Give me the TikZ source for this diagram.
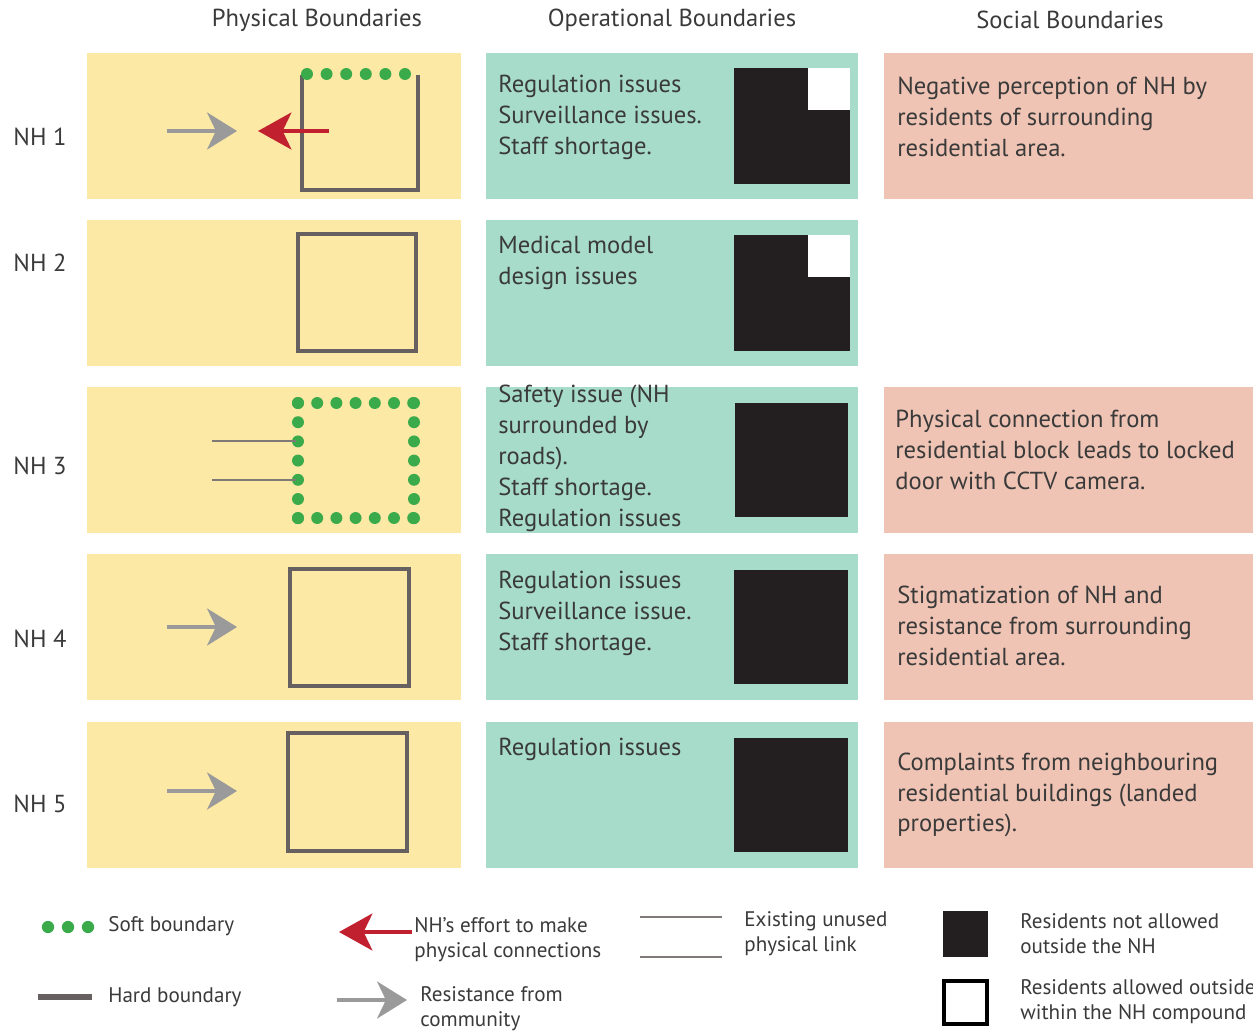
\documentclass[tikz,border=0pt]{standalone}
\usepackage{fontspec}
\setmainfont{PT Sans}
\usetikzlibrary{arrows.meta}

\definecolor{physyellow}{HTML}{FCE9A5}
\definecolor{opteal}{HTML}{A7DCCB}
\definecolor{socpink}{HTML}{EFC4B4}
\definecolor{softgreen}{HTML}{3BAA4B}
\definecolor{hardgrey}{HTML}{676060}
\definecolor{linkgrey}{HTML}{7F7A78}
\definecolor{resistgrey}{HTML}{9A9A9A}
\definecolor{effortred}{HTML}{C1202E}
\definecolor{inkgrey}{HTML}{3A3A3A}
\definecolor{residentblack}{HTML}{231F20}

\begin{document}
\begin{tikzpicture}[x=0.02cm, y=-0.02cm,
    txt/.style={font=\fontsize{14}{17.6}\selectfont, text=inkgrey, align=left, anchor=west, inner sep=0pt},
    head/.style={font=\fontsize{14}{17.6}\selectfont, text=inkgrey, inner sep=0pt},
    legtxt/.style={font=\fontsize{12}{14.2}\selectfont, text=inkgrey, align=left, anchor=west, inner sep=0pt},
    hard/.style={hardgrey, line width=2.5pt},
    link/.style={linkgrey, line width=1.3pt},
    resist/.style={resistgrey, line width=2.2pt, -{Stealth[length=17pt, width=21pt, inset=5pt]}},
    effort/.style={effortred, line width=2.2pt, -{Stealth[length=19pt, width=21pt, inset=5pt]}}]
    \useasboundingbox (0,0) rectangle (1253,1031);

    % --- Column headers ---
    \node[head] (hphys) at (317,20) {Physical Boundaries};
    \node[head] (hop)   at (672,20) {Operational Boundaries};
    \node[head] (hsoc)  at (1070,20) {Social Boundaries};

    % --- Coloured cells ---
    \foreach \top in {53,220,387,554,722} {
        \fill[physyellow] (87,\top) rectangle (461,\top+146);
        \fill[opteal] (486,\top) rectangle (858,\top+146);
    }
    \foreach \top in {53,387,554,722}
        \fill[socpink] (884,\top) rectangle (1253,\top+146);

    % --- Row labels ---
    \node[head] (nh1) at (40,137) {NH 1};
    \node[head] (nh2) at (40,263) {NH 2};
    \node[head] (nh3) at (40,466) {NH 3};
    \node[head] (nh4) at (40,639) {NH 4};
    \node[head] (nh5) at (40,804) {NH 5};

    % --- 1. Physical boundaries ---
    % NH 1: soft top, hard sides, effort vs resistance
    \draw[hard] (302,75) -- (302,190) -- (418,190) -- (418,75);
    \foreach \i in {0,...,5}
        \fill[softgreen] ({307+19.6*\i},74) circle[radius=3.4pt];
    \coordinate (rtail1) at (167,131);
    \coordinate (rtip1)  at (237,131);
    \coordinate (etail1) at (329,131);
    \coordinate (etip1)  at (258,131);
    \draw[resist] (rtail1) -- (rtip1);
    \draw[effort] (etail1) -- (etip1);

    % NH 2: hard boundary only
    \draw[hard] (298,234) rectangle (416,351);

    % NH 3: soft boundary with unused links
    \foreach \i in {0,...,6} {
        \fill[softgreen] ({298+19.2*\i},403) circle[radius=3.4pt];
        \fill[softgreen] ({298+19.2*\i},518) circle[radius=3.4pt];
        \fill[softgreen] (298,{403+19.2*\i}) circle[radius=3.4pt];
        \fill[softgreen] (414,{403+19.2*\i}) circle[radius=3.4pt];
    }
    \coordinate (link1a) at (212,441);
    \coordinate (link1b) at (296,441);
    \coordinate (link2a) at (212,480);
    \coordinate (link2b) at (296,480);
    \draw[link] (link1a) -- (link1b);
    \draw[link] (link2a) -- (link2b);

    % NH 4 and NH 5: hard boundary, resistance
    \draw[hard] (290,569) rectangle (409,686);
    \coordinate (rtail4) at (167,627);
    \coordinate (rtip4)  at (237,627);
    \draw[resist] (rtail4) -- (rtip4);
    \draw[hard] (288,733) rectangle (407,851);
    \coordinate (rtail5) at (167,791);
    \coordinate (rtip5)  at (237,791);
    \draw[resist] (rtail5) -- (rtip5);

    % --- 2. Operational boundaries ---
    \node[txt] (op1) at (498,117) {Regulation issues\\Surveillance issues.\\Staff shortage.};
    \node[txt] (op2) at (498,263) {Medical model\\design issues};
    \node[txt] (op3) at (498,458) {Safety issue (NH\\surrounded by\\roads).\\Staff shortage.\\Regulation issues};
    \node[txt] (op4) at (498,613) {Regulation issues\\Surveillance issue.\\Staff shortage.};
    \node[txt] (op5) at (498,749) {Regulation issues};

    \fill[residentblack] (734,68) rectangle (850,184);
    \fill[white] (808,68) rectangle (850,110);
    \fill[residentblack] (734,235) rectangle (850,351);
    \fill[white] (808,235) rectangle (850,277);
    \fill[residentblack] (735,403) rectangle (848,517);
    \fill[residentblack] (734,570) rectangle (848,684);
    \fill[residentblack] (734,738) rectangle (848,852);

    % --- 3. Social boundaries ---
    \node[txt] (soc1) at (897,117) {Negative perception of NH by\\residents of surrounding\\residential area.};
    \node[txt] (soc3) at (895,450) {Physical connection from\\residential block leads to locked\\door with CCTV camera.};
    \node[txt] (soc4) at (897,626) {Stigmatization of NH and\\resistance from surrounding\\residential area.};
    \node[txt] (soc5) at (897,795) {Complaints from neighbouring\\residential buildings (landed\\properties).};

    % --- 4. Legend ---
    \foreach \x in {48,68,88}
        \fill[softgreen] (\x,927) circle[radius=3.5pt];
    \node[legtxt] (lsoft) at (108,926) {Soft boundary};
    \coordinate (lharda) at (38,997);
    \coordinate (lhardb) at (92,997);
    \draw[hard, line width=3pt] (lharda) -- (lhardb);
    \node[legtxt] (lhard) at (108,997) {Hard boundary};

    \coordinate (letail) at (412,932);
    \coordinate (letip)  at (339,932);
    \draw[effort] (letail) -- (letip);
    \node[legtxt] (leffort) at (414,940) {NH's effort to make\\physical connections};
    \coordinate (lrtail) at (337,1000);
    \coordinate (lrtip)  at (407,1000);
    \draw[resist] (lrtail) -- (lrtip);
    \node[legtxt] (lresist) at (420,1009) {Resistance from\\community};

    \coordinate (llink1a) at (640,917);
    \coordinate (llink1b) at (722,917);
    \coordinate (llink2a) at (640,957);
    \coordinate (llink2b) at (722,957);
    \draw[link] (llink1a) -- (llink1b);
    \draw[link] (llink2a) -- (llink2b);
    \node[legtxt] (llink) at (744,934) {Existing unused\\physical link};

    \fill[residentblack] (943,911) rectangle (988,957);
    \node[legtxt] (lnot) at (1020,934) {Residents not allowed\\outside the NH};
    \draw[black, line width=1.8pt] (944,981) rectangle (987,1024);
    \node[legtxt] (lallow) at (1020,1002) {Residents allowed outside\\within the NH compound};
\end{tikzpicture}
\end{document}
